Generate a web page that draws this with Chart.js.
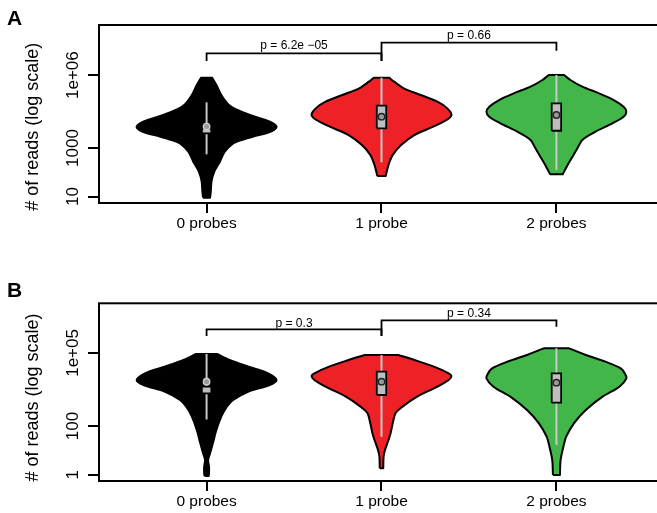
<!DOCTYPE html>
<html><head><meta charset="utf-8">
<script src="https://cdn.jsdelivr.net/npm/chart.js@4.4.1/dist/chart.umd.min.js"></script>
<style>
html,body{margin:0;padding:0;background:#fff;overflow:hidden;width:657px;height:513px;position:relative}
canvas{position:absolute;left:0}
#ca{top:0}
#cb{top:257px}
</style></head><body>
<canvas id="ca" width="670" height="257" style="width:670px;height:257px"></canvas>
<canvas id="cb" width="670" height="256" style="width:670px;height:256px"></canvas>
<script>
// ---------- DATA (all y values are log10(# of reads)) ----------
const categories = ['0 probes', '1 probe', '2 probes'];
const positions = [1, 2, 3];

// Panel A
const aTickValues = [10, 1000, 1e6];
const aTickLabels = ['10', '1000', '1e+06'];
const aLevels0 = [5.894, 5.593, 5.181, 4.770, 4.564, 4.358, 4.152, 4.015, 3.878, 3.740, 3.600, 3.466, 3.329, 3.192, 2.849, 2.437, 2.026, 1.614, 1.203, 0.956];
const aDens0   = [0.08, 0.14, 0.21, 0.32, 0.44, 0.62, 0.84, 0.95, 1.00, 0.96, 0.84, 0.66, 0.50, 0.38, 0.26, 0.19, 0.11, 0.07, 0.06, 0.05];
const aLevels1 = [5.894, 5.730, 5.455, 5.181, 4.907, 4.632, 4.358, 4.152, 3.878, 3.535, 3.123, 2.712, 2.300, 1.848];
const aDens1   = [0.11, 0.18, 0.32, 0.56, 0.80, 0.94, 1.00, 0.93, 0.74, 0.47, 0.28, 0.16, 0.10, 0.06];
const aLevels2 = [6.004, 5.798, 5.524, 5.250, 4.975, 4.701, 4.495, 4.289, 4.015, 3.672, 3.329, 2.986, 2.643, 2.300, 1.916];
const aDens2   = [0.11, 0.20, 0.37, 0.61, 0.82, 0.96, 1.00, 0.96, 0.80, 0.56, 0.37, 0.30, 0.23, 0.16, 0.09];
const aWhiskerLo = [2.74, 2.41, 2.095];
const aWhiskerHi = [4.88, 5.894, 6.004];
const aQ1 = [3.60, 3.809, 3.71];
const aQ3 = [3.80, 4.742, 4.84];
const aMedian = [3.88, 4.289, 4.358];
const aPLabels = ['p = 6.2e \u221205', 'p = 0.66'];
const aBracketFrom = [1, 2];
const aBracketTo = [2, 3];
const aBracketTop = [6.897, 7.333];
const aBracketLeftEnd = [6.58, 6.58];
const aBracketRightEnd = [6.58, 7.004];
const aPLabelY = [7.062, 7.473];
const aRange = [0.737, 8.062];

// Panel B
const bTickValues = [1, 100, 1e5];
const bTickLabels = ['1', '100', '1e+05'];
const bLevels0 = [4.957, 4.710, 4.437, 4.163, 3.889, 3.684, 3.410, 3.068, 2.794, 2.383, 1.836, 1.288, 0.878, 0.604, 0.330, 0.056, -0.053];
const bDens0   = [0.15, 0.33, 0.60, 0.88, 1.00, 0.90, 0.60, 0.38, 0.29, 0.21, 0.14, 0.09, 0.05, 0.022, 0.035, 0.035, 0.03];
const bLevels1 = [4.916, 4.710, 4.437, 4.163, 4.053, 3.889, 3.615, 3.205, 2.794, 2.520, 2.110, 1.699, 1.425, 1.014, 0.740, 0.261];
const bDens1   = [0.24, 0.47, 0.75, 0.96, 1.00, 0.96, 0.80, 0.51, 0.30, 0.20, 0.16, 0.13, 0.10, 0.05, 0.03, 0.025];
const bLevels2 = [5.190, 4.916, 4.642, 4.368, 4.150, 3.958, 3.615, 3.205, 2.657, 2.110, 1.562, 1.151, 0.604, -0.012];
const bDens2   = [0.18, 0.42, 0.70, 0.92, 0.98, 1.00, 0.90, 0.66, 0.42, 0.25, 0.14, 0.10, 0.06, 0.05];
const bWhiskerLo = [2.27, 1.562, 1.22];
const bWhiskerHi = [4.957, 4.916, 5.19];
const bQ1 = [3.34, 3.273, 2.957];
const bQ3 = [3.62, 4.231, 4.164];
const bMedian = [3.82, 3.82, 3.78];
const bPLabels = ['p = 0.3', 'p = 0.34'];
const bBracketFrom = [1, 2];
const bBracketTo = [2, 3];
const bBracketTop = [5.971, 6.341];
const bBracketLeftEnd = [5.696, 5.696];
const bBracketRightEnd = [5.696, 6.078];
const bPLabelY = [6.078, 6.489];
const bRange = [-0.259, 7.039];

// ---------- STYLE ----------
const violinFill = ['#000000', '#EE2226', '#43B649'];
const medianEdge = ['#cfcfcf', '#222222', '#222222'];
const HALF_W = 0.4;   // max violin half width in x units
const BOX_HW = 0.027; // box half width in x units
const FONT = "'Liberation Sans', Arial, sans-serif";

function pw(v) { return Math.pow(10, v); }

function violinPoints(c, levels, dens) {
  const n = levels.length;
  const pts = [];
  const bl = {x: c - dens[n - 1] * HALF_W, y: pw(levels[n - 1])};
  pts.push(bl, {x: bl.x, y: bl.y});
  for (let k = n - 2; k >= 1; k--) pts.push({x: c - dens[k] * HALF_W, y: pw(levels[k])});
  const tl = {x: c - dens[0] * HALF_W, y: pw(levels[0])};
  const tr = {x: c + dens[0] * HALF_W, y: pw(levels[0])};
  pts.push(tl, {x: tl.x, y: tl.y}, tr, {x: tr.x, y: tr.y});
  for (let k = 1; k <= n - 2; k++) pts.push({x: c + dens[k] * HALF_W, y: pw(levels[k])});
  const br = {x: c + dens[n - 1] * HALF_W, y: pw(levels[n - 1])};
  pts.push(br, {x: br.x, y: br.y}, {x: bl.x, y: bl.y});
  return pts;
}

function makePanel(id, P) {
  const datasets = [];
  for (let i = 0; i < 3; i++) {
    const c = positions[i];
    datasets.push({data: violinPoints(c, P.levels[i], P.dens[i]), borderColor: '#000', borderWidth: 2,
      backgroundColor: violinFill[i], fill: 'shape', tension: 0.3, pointRadius: 0, borderJoinStyle: 'round', order: 4});
    datasets.push({data: [{x: c, y: pw(P.wLo[i])}, {x: c, y: pw(P.wHi[i])}], borderColor: '#C8C8C8',
      borderWidth: 2, pointRadius: 0, fill: false, tension: 0, order: 3});
    const q1 = pw(P.q1[i]), q3 = pw(P.q3[i]);
    datasets.push({data: [{x: c - BOX_HW, y: q1}, {x: c - BOX_HW, y: q3}, {x: c + BOX_HW, y: q3}, {x: c + BOX_HW, y: q1}, {x: c - BOX_HW, y: q1}],
      borderColor: '#000', borderWidth: 1.8, backgroundColor: '#BEBEBE', fill: 'shape', tension: 0, pointRadius: 0, order: 2});
    datasets.push({data: [{x: c, y: pw(P.med[i])}], showLine: false, pointRadius: 3.2, pointBackgroundColor: '#9a9a9a',
      pointBorderColor: medianEdge[i], pointBorderWidth: 1.4, order: 1});
  }
  for (let j = 0; j < 2; j++) {
    datasets.push({data: [{x: P.bFrom[j], y: pw(P.bLeft[j])}, {x: P.bFrom[j], y: pw(P.bTop[j])},
      {x: P.bTo[j], y: pw(P.bTop[j])}, {x: P.bTo[j], y: pw(P.bRight[j])}],
      borderColor: '#000', borderWidth: 1.8, pointRadius: 0, fill: false, tension: 0, order: 0});
  }

  const textPlugin = {
    id: 'texts' + id,
    afterDraw(chart) {
      const ctx = chart.ctx, a = chart.chartArea;
      const xs = chart.scales.x, ys = chart.scales.y;
      ctx.save();
      ctx.strokeStyle = '#000'; ctx.lineWidth = 2;
      ctx.strokeRect(a.left, a.top, a.right - a.left, a.bottom - a.top);
      ctx.fillStyle = '#000';
      ctx.font = '17px ' + FONT;
      ctx.textAlign = 'center'; ctx.textBaseline = 'alphabetic';
      P.ticks.forEach((v, k) => {
        ctx.save(); ctx.translate(78, ys.getPixelForValue(v)); ctx.rotate(-Math.PI / 2);
        ctx.fillText(P.tickLabels[k], 0, 0); ctx.restore();
      });
      ctx.font = '18px ' + FONT;
      ctx.save(); ctx.translate(38, P.titleY); ctx.rotate(-Math.PI / 2);
      ctx.fillText('# of reads (log scale)', 0, 0); ctx.restore();
      ctx.font = 'bold 21px ' + FONT; ctx.textAlign = 'left';
      ctx.fillText(P.letter, 7, P.letterY);
      ctx.font = '12px ' + FONT; ctx.textAlign = 'center';
      P.pLabels.forEach((t, k) => {
        ctx.fillText(t, xs.getPixelForValue((P.bFrom[k] + P.bTo[k]) / 2), ys.getPixelForValue(pw(P.pY[k])));
      });
      ctx.restore();
    }
  };

  return new Chart(document.getElementById(id), {
    type: 'line',
    data: {datasets},
    options: {
      responsive: false, animation: false, devicePixelRatio: 1, events: [],
      layout: {padding: {top: P.padTop, right: 6, left: 0, bottom: 0}},
      plugins: {legend: {display: false}, tooltip: {enabled: false}},
      scales: {
        x: {
          type: 'linear', min: 0.385, max: 3.615, bounds: 'data',
          afterBuildTicks: s => { s.ticks = positions.map(v => ({value: v})); },
          afterFit: s => { s.height = P.xAxisH; },
          grid: {display: true, drawOnChartArea: false, drawTicks: true, tickLength: 10, color: '#000', lineWidth: 2},
          border: {display: false},
          ticks: {color: '#000', font: {family: FONT, size: 15.5}, padding: 1, maxRotation: 0,
            callback: v => categories[Math.round(v) - 1]}
        },
        y: {
          type: 'logarithmic', min: pw(P.range[0]), max: pw(P.range[1]), bounds: 'data',
          afterBuildTicks: s => { s.ticks = P.ticks.map(v => ({value: v})); },
          afterFit: s => { s.width = 99; },
          grid: {display: true, drawOnChartArea: false, drawTicks: true, tickLength: 11, color: '#000', lineWidth: 2},
          border: {display: false},
          ticks: {display: false}
        }
      }
    },
    plugins: [textPlugin]
  });
}

makePanel('ca', {
  levels: [aLevels0, aLevels1, aLevels2], dens: [aDens0, aDens1, aDens2],
  wLo: aWhiskerLo, wHi: aWhiskerHi, q1: aQ1, q3: aQ3, med: aMedian,
  bFrom: aBracketFrom, bTo: aBracketTo, bTop: aBracketTop, bLeft: aBracketLeftEnd, bRight: aBracketRightEnd,
  pLabels: aPLabels, pY: aPLabelY, ticks: aTickValues, tickLabels: aTickLabels, range: aRange,
  padTop: 25, xAxisH: 54, titleY: 126.7, letter: 'A', letterY: 25
});
makePanel('cb', {
  levels: [bLevels0, bLevels1, bLevels2], dens: [bDens0, bDens1, bDens2],
  wLo: bWhiskerLo, wHi: bWhiskerHi, q1: bQ1, q3: bQ3, med: bMedian,
  bFrom: bBracketFrom, bTo: bBracketTo, bTop: bBracketTop, bLeft: bBracketLeftEnd, bRight: bBracketRightEnd,
  pLabels: bPLabels, pY: bPLabelY, ticks: bTickValues, tickLabels: bTickLabels, range: bRange,
  padTop: 46.3, xAxisH: 32, titleY: 140.5, letter: 'B', letterY: 40.3
});
</script>
</body></html>
